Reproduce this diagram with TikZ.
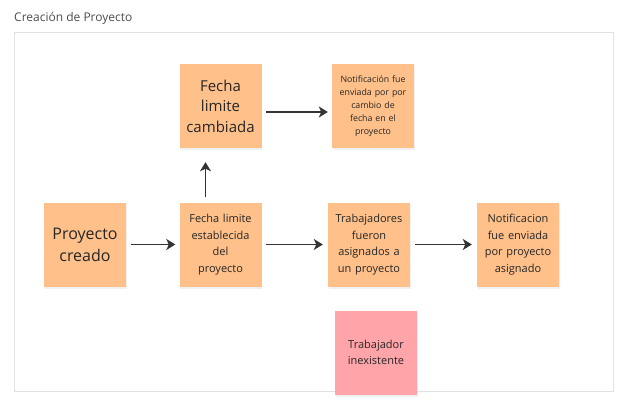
\documentclass[tikz,border=0pt]{standalone}
\usepackage{fontspec}
\setmainfont{Open Sans}
\usetikzlibrary{arrows.meta,shadows}
\definecolor{nota}{HTML}{FFC08A}
\definecolor{notaroja}{HTML}{FFA4A9}
\definecolor{flecha}{HTML}{333333}
\definecolor{marco}{HTML}{E2E2E2}
\tikzset{
  nota/.style={fill=nota, minimum width=82pt, minimum height=84pt, inner sep=2pt,
    align=center, text width=78pt, text=black!85,
    drop shadow={opacity=0.12, shadow xshift=0.5pt, shadow yshift=-2pt}},
  flechita/.style={-{Stealth[length=9pt,width=11pt,inset=2.5pt]}, line width=1.6pt, draw=flecha}
}
\begin{document}
\begin{tikzpicture}[x=1pt,y=1pt,yscale=-1,xscale=1]
\useasboundingbox (0,0) rectangle (623,402);

% Frame
\draw [marco, line width=0.8] (14.5,32.5) rectangle (613.5,391);
% Title
\node (titulo) [anchor=west, inner sep=0pt, text=black!70, font=\fontsize{12}{14}\selectfont] at (14,18) {Creación de Proyecto};

% Sticky notes
\node (creado) [nota, font=\fontsize{16}{22}\selectfont] at (85,244.5) {Proyecto\\creado};
\node (establecida) [nota, font=\fontsize{11}{16.5}\selectfont] at (220.5,244.5) {Fecha limite\\establecida\\del\\proyecto};
\node (asignados) [nota, font=\fontsize{11}{16.5}\selectfont] at (369,244.5) {Trabajadores\\fueron\\asignados a\\un proyecto};
\node (notifasig) [nota, font=\fontsize{11}{16.5}\selectfont] at (518,244.5) {Notificacion\\fue enviada\\por proyecto\\asignado};
\node (cambiada) [nota, font=\fontsize{15}{20.5}\selectfont] at (220.5,106) {Fecha\\limite\\cambiada};
\node (notifcambio) [nota, font=\fontsize{8.8}{13}\selectfont] at (373,106) {Notificación fue\\enviada por por\\cambio de\\fecha en el\\proyecto};
\node (inexistente) [nota, fill=notaroja, font=\fontsize{11}{16.5}\selectfont] at (376,352.5) {Trabajador\\inexistente};

% Arrows
\draw [flechita] ([xshift=5pt]creado.east) -- ([xshift=-4pt]establecida.west);
\draw [flechita] ([xshift=4pt]establecida.east) -- ([xshift=-5pt]asignados.west);
\draw [flechita] ([xshift=5pt]asignados.east) -- ([xshift=-5pt]notifasig.west);
\draw [flechita] ([xshift=-15pt,yshift=-5pt]establecida.north) -- ([xshift=-15pt,yshift=14pt]cambiada.south);
\draw [flechita] ([xshift=4pt,yshift=6pt]cambiada.east) -- ([xshift=-4pt,yshift=6pt]notifcambio.west);
\end{tikzpicture}
\end{document}
